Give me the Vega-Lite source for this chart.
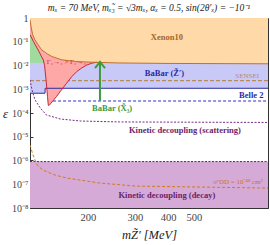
{
  "$schema": "https://vega.github.io/schema/vega-lite/v6.json",
  "width": 238,
  "height": 190,
  "autosize": "none",
  "padding": {"left": 30, "top": 18, "right": 2, "bottom": 37},
  "title": {"text": "mₓ = 70 MeV, mₓ̃₃ = √3mₓ,  αₓ = 0.5,  sin(2θ′ₓ) = −10⁻¹", "font": "Liberation Serif", "fontStyle": "italic", "fontWeight": "normal", "fontSize": 9.5, "color": "#222", "offset": 1, "anchor": "middle"},
  "config": {
    "view": {"stroke": "#333", "strokeWidth": 1},
    "font": "Liberation Serif",
    "axis": {"grid": false, "domainColor": "#333", "tickColor": "#333", "labelFont": "Liberation Serif", "labelColor": "#444", "labelFontSize": 10, "titleFont": "Liberation Serif", "titleFontWeight": "normal", "titleColor": "#222"}
  },
  "datasets": {
    "blue": [{"m": 121.2, "e": 0.00068, "e2": 0.03}, {"m": 138, "e": 0.00068, "e2": 0.03}, {"m": 138.2, "e": 0.0011, "e2": 0.03}, {"m": 950, "e": 0.0011, "e2": 0.03}],
    "green": [{"m": 121.2, "e": 0.013, "e2": 1}, {"m": 140, "e": 0.013, "e2": 1}],
    "red": [{"m": 121.2, "e": 0.2, "e2": 1}, {"m": 125, "e": 0.1, "e2": 1}, {"m": 130, "e": 0.045, "e2": 1}, {"m": 136, "e": 0.017, "e2": 1}, {"m": 137.5, "e": 0.01, "e2": 1}, {"m": 139.5, "e": 0.002, "e2": 1}, {"m": 141, "e": 0.0005, "e2": 1}, {"m": 142, "e": 0.00021, "e2": 1}, {"m": 143, "e": 0.00021, "e2": 1}, {"m": 144.5, "e": 0.00024, "e2": 1}, {"m": 148, "e": 0.00033, "e2": 1}, {"m": 152.6, "e": 0.0005, "e2": 1}, {"m": 158, "e": 0.00085, "e2": 1}, {"m": 166.4, "e": 0.0018, "e2": 1}, {"m": 174, "e": 0.0034, "e2": 1}, {"m": 181.7, "e": 0.0056, "e2": 1}, {"m": 190, "e": 0.008, "e2": 1}, {"m": 198.2, "e": 0.0105, "e2": 1}, {"m": 207, "e": 0.0125, "e2": 1}, {"m": 216.3, "e": 0.0138, "e2": 1}],
    "xenon": [{"m": 121.2, "e": 0.85, "e2": 1}, {"m": 122.5, "e": 0.4, "e2": 1}, {"m": 124, "e": 0.2, "e2": 1}, {"m": 126.5, "e": 0.12, "e2": 1}, {"m": 130, "e": 0.075, "e2": 1}, {"m": 134, "e": 0.046, "e2": 1}, {"m": 140, "e": 0.032, "e2": 1}, {"m": 146.4, "e": 0.024, "e2": 1}, {"m": 159, "e": 0.0175, "e2": 1}, {"m": 178.6, "e": 0.0148, "e2": 1}, {"m": 206, "e": 0.0138, "e2": 1}, {"m": 260, "e": 0.0128, "e2": 1}, {"m": 400, "e": 0.0122, "e2": 1}, {"m": 950, "e": 0.0118, "e2": 1}],
    "decay": [{"m": 121.2, "e": 1e-8, "e2": 9e-7}, {"m": 950, "e": 1e-8, "e2": 9e-7}],
    "belle": [{"m": 148, "e": 0.00032}, {"m": 950, "e": 0.00032}],
    "sensei": [{"m": 121.2, "e": 0.0023}, {"m": 950, "e": 0.0023}],
    "scatter": [{"m": 121.2, "e": 0.0025}, {"m": 123.3, "e": 0.00094}, {"m": 126.5, "e": 0.00036}, {"m": 132.4, "e": 0.000164}, {"m": 139.6, "e": 0.000083}, {"m": 157.4, "e": 0.000056}, {"m": 187.1, "e": 0.000046}, {"m": 263.3, "e": 0.000042}, {"m": 950, "e": 0.00004}],
    "sigma": [{"m": 121.2, "e": 4.5e-6}, {"m": 124.4, "e": 1.7e-6}, {"m": 128.9, "e": 6.5e-7}, {"m": 135.2, "e": 4.0e-7}, {"m": 150.3, "e": 2.45e-7}, {"m": 166.6, "e": 1.83e-7}, {"m": 222, "e": 1.12e-7}, {"m": 301, "e": 8.4e-8}, {"m": 950, "e": 6.9e-8}],
    "arrow": [{"m": 222, "e": 0.00033, "e2": 0.0138}],
    "chevron": [{"m": 212.7, "e": 0.0078}, {"m": 222, "e": 0.0142}, {"m": 231.9, "e": 0.0078}],
    "labels": [
      {"m": 396, "e": 0.163, "t": "Xenon10", "c": "xen"},
      {"m": 388, "e": 0.0049, "t": "BaBar (Z̃′)", "c": "blue"},
      {"m": 822, "e": 0.00058, "t": "Belle 2", "c": "blue"},
      {"m": 463, "e": 0.000019, "t": "Kinetic decoupling (scattering)", "c": "purple"},
      {"m": 396, "e": 3.5e-8, "t": "Kinetic decoupling (decay)", "c": "purple"},
      {"m": 246.5, "e": 0.000164, "t": "BaBar (X̃₃)", "c": "green"}
    ],
    "smalllabels": [
      {"m": 793, "e": 0.0037, "t": "SENSEI", "c": "sensei"},
      {"m": 733, "e": 1.26e-7, "t": "σᶜDD = 10⁻⁴⁸ cm²", "c": "sigma"},
      {"m": 166, "e": 0.0144, "t": "Γ₂→₂ > Γ₂→₃", "c": "red"}
    ]
  },
  "encoding": {
    "x": {"field": "m", "type": "quantitative", "scale": {"type": "log", "domain": [121.2, 950], "nice": false},
      "axis": {"values": [200, 300, 400, 500, 600, 700, 800, 900], "labelExpr": "datum.value <= 500 ? datum.value : ''", "tickSize": -3, "labelPadding": 7, "labelFontSize": 10.5, "title": "mZ̃′ [MeV]", "titleFontSize": 12.5, "titleFontStyle": "italic", "titlePadding": 6}},
    "y": {"field": "e", "type": "quantitative", "scale": {"type": "log", "domain": [1e-8, 1], "nice": false},
      "axis": {"values": [1e-8, 1e-7, 1e-6, 1e-5, 1e-4, 1e-3, 1e-2, 1e-1, 1], "labelExpr": "datum.value >= 0.5 ? '1' : '10⁻' + ['', '¹', '²', '³', '⁴', '⁵', '⁶', '⁷', '⁸'][round(-log(datum.value) / LN10)]", "tickSize": -3, "labelPadding": 5, "title": "ε", "titleAngle": 0, "titleFontSize": 13, "titleFontStyle": "italic", "titleX": -25, "titleY": 95, "titleBaseline": "middle", "titleAlign": "center"}}
  },
  "layer": [
    {"data": {"name": "blue"}, "mark": {"type": "area", "color": "#C9C9F7", "opacity": 1, "clip": true}, "encoding": {"y2": {"field": "e2"}}},
    {"data": {"name": "sensei"}, "mark": {"type": "line", "color": "#B98A60", "strokeWidth": 1.4, "strokeDash": [4, 2], "clip": true}},
    {"data": {"name": "green"}, "mark": {"type": "area", "color": "#9FDC9C", "opacity": 1, "clip": true}, "encoding": {"y2": {"field": "e2"}}},
    {"data": {"name": "red"}, "mark": {"type": "area", "color": "#FFA8A8", "opacity": 1, "clip": true}, "encoding": {"y2": {"field": "e2"}}},
    {"data": {"name": "xenon"}, "mark": {"type": "area", "color": "#FFD9A8", "opacity": 1, "clip": true}, "encoding": {"y2": {"field": "e2"}}},
    {"data": {"name": "decay"}, "mark": {"type": "area", "color": "#D6AAD6", "opacity": 1, "clip": true}, "encoding": {"y2": {"field": "e2"}}},
    {"data": {"name": "decay"}, "mark": {"type": "line", "color": "#6A1E6A", "strokeWidth": 1, "strokeDash": [2, 1.5], "clip": true}, "encoding": {"y": {"field": "e2", "type": "quantitative"}}},
    {"data": {"name": "blue"}, "mark": {"type": "line", "color": "#2B2BA0", "strokeWidth": 1, "clip": true}},
    {"data": {"name": "red"}, "mark": {"type": "line", "color": "#C8283A", "strokeWidth": 1, "clip": true}},
    {"data": {"name": "xenon"}, "mark": {"type": "line", "color": "#C0702C", "strokeWidth": 1, "clip": true}},
    {"data": {"name": "belle"}, "mark": {"type": "line", "color": "#2B30C8", "strokeWidth": 1, "strokeDash": [3, 2], "clip": true}},
    {"data": {"name": "scatter"}, "mark": {"type": "line", "color": "#7A2A88", "strokeWidth": 1, "strokeDash": [2, 1.5], "clip": true}},
    {"data": {"name": "sigma"}, "mark": {"type": "line", "color": "#D07A20", "strokeWidth": 1, "strokeDash": [3, 2], "clip": true}},
    {"data": {"name": "arrow"}, "mark": {"type": "rule", "color": "#3C9C3C", "strokeWidth": 2}, "encoding": {"y2": {"field": "e2"}}},
    {"data": {"name": "chevron"}, "mark": {"type": "line", "color": "#3C9C3C", "strokeWidth": 2}},
    {"data": {"name": "labels"}, "mark": {"type": "text", "font": "Liberation Serif", "fontWeight": "bold", "fontSize": 8.5, "baseline": "middle", "align": "center"},
      "encoding": {"text": {"field": "t"}, "color": {"field": "c", "type": "nominal", "legend": null, "scale": {"domain": ["xen", "blue", "purple", "green", "sensei", "sigma", "red"], "range": ["#A5642A", "#2A2AA8", "#6A1E6A", "#3C9C3C", "#B98A60", "#C8742A", "#C8283A"]}}}},
    {"data": {"name": "smalllabels"}, "mark": {"type": "text", "font": "Liberation Serif", "fontSize": 7, "baseline": "middle", "align": "center"},
      "encoding": {"text": {"field": "t"}, "color": {"field": "c", "type": "nominal", "legend": null}}}
  ]
}
